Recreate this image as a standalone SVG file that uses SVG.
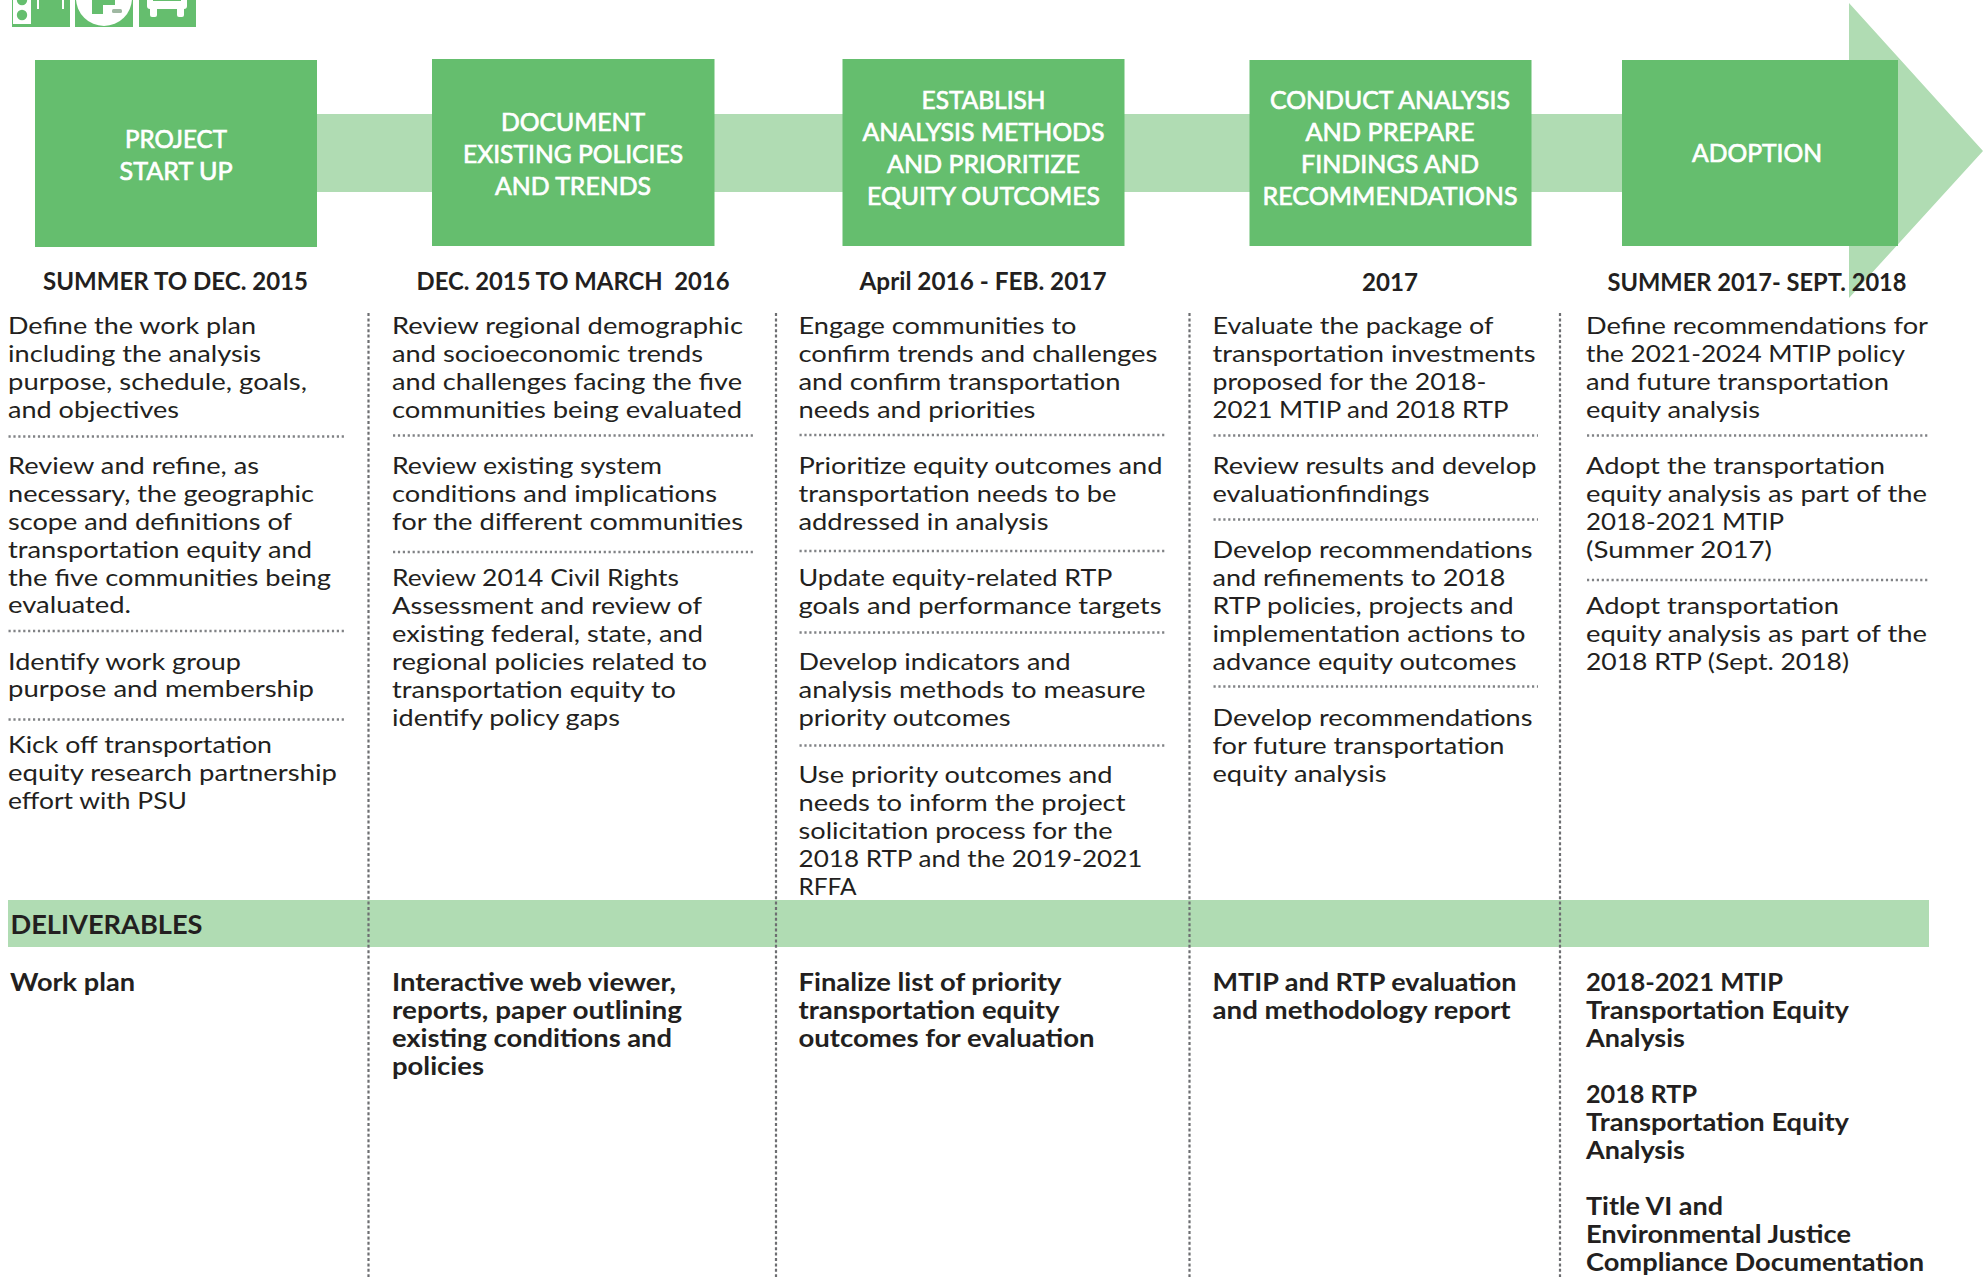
<svg xmlns="http://www.w3.org/2000/svg" width="1986" height="1277" viewBox="0 0 1986 1277">
<style>
text{font-family:"Lato","Carlito","Liberation Sans",sans-serif;fill:#231f20}
.b{font-size:24px}
.h{font-size:24.5px;font-weight:700}
.d{font-size:24.5px;font-weight:700}
.t{font-size:25px;fill:#fff;stroke:#fff;stroke-width:.7px;text-anchor:middle}
.box{fill:#65be6e}
.lite{fill:#b0dcb3}
.hd{stroke:#808285;stroke-width:2.3;stroke-dasharray:2.2 2.7;fill:none}
.vd{stroke:#6d6e71;stroke-width:2.2;stroke-dasharray:3 2.4;fill:none}
.w{fill:#fff}
</style>
<rect width="1986" height="1277" fill="#fff"/>
<g id="icons">
<rect class="box" x="12" y="-4" width="58" height="31"/>
<rect class="w" x="13" y="-4" width="18" height="28"/>
<circle class="box" cx="22" cy="15" r="5.2"/>
<circle class="box" cx="22" cy="0" r="5.2"/>
<rect class="w" x="37" y="-4" width="2" height="13"/>
<rect class="w" x="62" y="-4" width="2" height="13"/>
<rect class="box" x="75" y="-4" width="58" height="31"/>
<circle class="w" cx="104" cy="-2" r="28"/>
<rect class="box" x="92" y="-4" width="11" height="18"/>
<rect class="box" x="103" y="-4" width="12" height="9"/>
<rect x="112" y="9" width="10" height="4" rx="1.500" fill="#9fb8a2"/>
<rect class="box" x="139" y="-4" width="57" height="31"/>
<rect class="w" x="147" y="-4" width="40" height="13" rx="3"/>
<rect class="w" x="150" y="6" width="7" height="11" rx="2"/>
<rect class="w" x="177" y="6" width="7" height="11" rx="2"/>
<rect class="box" x="153" y="-4" width="28" height="5"/>
</g>
<g id="connectors">
<path class="lite" d="M317 114H1849V3L1983 151L1849 298V192H317Z"/>
<rect class="lite" x="8" y="900" width="1921" height="47"/>
<g id="column-dividers">
<path class="vd" d="M368.500 313V1277M776 313V1277M1189.500 313V1277M1560 313V1277"/>
</g>
</g>
<g id="stage-1">
<rect class="box" x="35" y="60" width="282" height="187"/>
<text class="t" x="176" y="148" textLength="102" lengthAdjust="spacingAndGlyphs">PROJECT</text>
<text class="t" x="176" y="180" textLength="113" lengthAdjust="spacingAndGlyphs">START UP</text>
<text class="h" x="43" y="290" textLength="265" lengthAdjust="spacingAndGlyphs">SUMMER TO DEC. 2015</text>
</g>
<g id="stage-2">
<rect class="box" x="432" y="59" width="282.500" height="187"/>
<text class="t" x="573" y="131" textLength="144" lengthAdjust="spacingAndGlyphs">DOCUMENT</text>
<text class="t" x="573" y="163" textLength="220" lengthAdjust="spacingAndGlyphs">EXISTING POLICIES</text>
<text class="t" x="573" y="195" textLength="156" lengthAdjust="spacingAndGlyphs">AND TRENDS</text>
<text class="h" x="416.500" y="290" textLength="313" lengthAdjust="spacingAndGlyphs" xml:space="preserve">DEC. 2015 TO MARCH  2016</text>
</g>
<g id="stage-3">
<rect class="box" x="842.500" y="59" width="282" height="187"/>
<text class="t" x="983.500" y="109" textLength="124" lengthAdjust="spacingAndGlyphs">ESTABLISH</text>
<text class="t" x="983.500" y="141" textLength="242" lengthAdjust="spacingAndGlyphs">ANALYSIS METHODS</text>
<text class="t" x="983.500" y="173" textLength="193" lengthAdjust="spacingAndGlyphs">AND PRIORITIZE</text>
<text class="t" x="983.500" y="205" textLength="233" lengthAdjust="spacingAndGlyphs">EQUITY OUTCOMES</text>
<text class="h" x="859.500" y="290" textLength="247" lengthAdjust="spacingAndGlyphs">April 2016 - FEB. 2017</text>
</g>
<g id="stage-4">
<rect class="box" x="1249.500" y="60" width="282" height="186"/>
<text class="t" x="1390" y="109" textLength="240" lengthAdjust="spacingAndGlyphs">CONDUCT ANALYSIS</text>
<text class="t" x="1390" y="141" textLength="169" lengthAdjust="spacingAndGlyphs">AND PREPARE</text>
<text class="t" x="1390" y="173" textLength="178" lengthAdjust="spacingAndGlyphs">FINDINGS AND</text>
<text class="t" x="1390" y="205" textLength="255" lengthAdjust="spacingAndGlyphs">RECOMMENDATIONS</text>
<text class="h" x="1362" y="291" textLength="56" lengthAdjust="spacingAndGlyphs">2017</text>
</g>
<g id="stage-5">
<rect class="box" x="1622" y="60" width="276" height="186"/>
<text class="t" x="1757" y="162" textLength="130" lengthAdjust="spacingAndGlyphs">ADOPTION</text>
<text class="h" x="1607.500" y="291" textLength="299" lengthAdjust="spacingAndGlyphs">SUMMER 2017- SEPT. 2018</text>
</g>
<g id="tasks-1">
<text class="b" x="8" y="333.500" textLength="248" lengthAdjust="spacingAndGlyphs">Define the work plan</text>
<text class="b" x="8" y="361.500" textLength="253" lengthAdjust="spacingAndGlyphs">including the analysis</text>
<text class="b" x="8" y="389.500" textLength="299" lengthAdjust="spacingAndGlyphs">purpose, schedule, goals,</text>
<text class="b" x="8" y="417.500" textLength="171" lengthAdjust="spacingAndGlyphs">and objectives</text>
<path class="hd" d="M8.500 436.500H344"/>
<text class="b" x="8" y="473.500" textLength="251" lengthAdjust="spacingAndGlyphs">Review and refine, as</text>
<text class="b" x="8" y="501.500" textLength="306" lengthAdjust="spacingAndGlyphs">necessary, the geographic</text>
<text class="b" x="8" y="529.500" textLength="284" lengthAdjust="spacingAndGlyphs">scope and definitions of</text>
<text class="b" x="8" y="557.500" textLength="304" lengthAdjust="spacingAndGlyphs">transportation equity and</text>
<text class="b" x="8" y="585.500" textLength="323" lengthAdjust="spacingAndGlyphs">the five communities being</text>
<text class="b" x="8" y="613" textLength="123" lengthAdjust="spacingAndGlyphs">evaluated.</text>
<path class="hd" d="M8.500 631H344"/>
<text class="b" x="8" y="669.500" textLength="233" lengthAdjust="spacingAndGlyphs">Identify work group</text>
<text class="b" x="8" y="697" textLength="306" lengthAdjust="spacingAndGlyphs">purpose and membership</text>
<path class="hd" d="M8.500 719.500H344"/>
<text class="b" x="8" y="753" textLength="264" lengthAdjust="spacingAndGlyphs">Kick off transportation</text>
<text class="b" x="8" y="781" textLength="329" lengthAdjust="spacingAndGlyphs">equity research partnership</text>
<text class="b" x="8" y="809" textLength="179" lengthAdjust="spacingAndGlyphs">effort with PSU</text>
</g>
<g id="tasks-2">
<text class="b" x="392" y="333.500" textLength="351" lengthAdjust="spacingAndGlyphs">Review regional demographic</text>
<text class="b" x="392" y="361.500" textLength="311" lengthAdjust="spacingAndGlyphs">and socioeconomic trends</text>
<text class="b" x="392" y="389.500" textLength="350" lengthAdjust="spacingAndGlyphs">and challenges facing the five</text>
<text class="b" x="392" y="417.500" textLength="350" lengthAdjust="spacingAndGlyphs">communities being evaluated</text>
<path class="hd" d="M393 435.500H753"/>
<text class="b" x="392" y="473.500" textLength="270" lengthAdjust="spacingAndGlyphs">Review existing system</text>
<text class="b" x="392" y="501.500" textLength="325" lengthAdjust="spacingAndGlyphs">conditions and implications</text>
<text class="b" x="392" y="529.500" textLength="351" lengthAdjust="spacingAndGlyphs">for the different communities</text>
<path class="hd" d="M393 552H753"/>
<text class="b" x="392" y="585.500" textLength="287" lengthAdjust="spacingAndGlyphs">Review 2014 Civil Rights</text>
<text class="b" x="392" y="613.500" textLength="310" lengthAdjust="spacingAndGlyphs">Assessment and review of</text>
<text class="b" x="392" y="641.500" textLength="311" lengthAdjust="spacingAndGlyphs">existing federal, state, and</text>
<text class="b" x="392" y="669.500" textLength="315" lengthAdjust="spacingAndGlyphs">regional policies related to</text>
<text class="b" x="392" y="697.500" textLength="284" lengthAdjust="spacingAndGlyphs">transportation equity to</text>
<text class="b" x="392" y="725.500" textLength="228" lengthAdjust="spacingAndGlyphs">identify policy gaps</text>
</g>
<g id="tasks-3">
<text class="b" x="798.500" y="333.500" textLength="278" lengthAdjust="spacingAndGlyphs">Engage communities to</text>
<text class="b" x="798.500" y="361.500" textLength="359" lengthAdjust="spacingAndGlyphs">confirm trends and challenges</text>
<text class="b" x="798.500" y="389.500" textLength="322" lengthAdjust="spacingAndGlyphs">and confirm transportation</text>
<text class="b" x="798.500" y="417.500" textLength="237" lengthAdjust="spacingAndGlyphs">needs and priorities</text>
<path class="hd" d="M799.500 435H1167"/>
<text class="b" x="798.500" y="473.500" textLength="364" lengthAdjust="spacingAndGlyphs">Prioritize equity outcomes and</text>
<text class="b" x="798.500" y="501.500" textLength="318" lengthAdjust="spacingAndGlyphs">transportation needs to be</text>
<text class="b" x="798.500" y="529.500" textLength="250" lengthAdjust="spacingAndGlyphs">addressed in analysis</text>
<path class="hd" d="M799.500 551H1167"/>
<text class="b" x="798.500" y="585.500" textLength="314" lengthAdjust="spacingAndGlyphs">Update equity-related RTP</text>
<text class="b" x="798.500" y="613.500" textLength="363" lengthAdjust="spacingAndGlyphs">goals and performance targets</text>
<path class="hd" d="M799.500 632.500H1167"/>
<text class="b" x="798.500" y="669.500" textLength="272" lengthAdjust="spacingAndGlyphs">Develop indicators and</text>
<text class="b" x="798.500" y="697.500" textLength="347" lengthAdjust="spacingAndGlyphs">analysis methods to measure</text>
<text class="b" x="798.500" y="725.500" textLength="212" lengthAdjust="spacingAndGlyphs">priority outcomes</text>
<path class="hd" d="M799.500 745.500H1167"/>
<text class="b" x="798.500" y="782.500" textLength="314" lengthAdjust="spacingAndGlyphs">Use priority outcomes and</text>
<text class="b" x="798.500" y="810.500" textLength="327" lengthAdjust="spacingAndGlyphs">needs to inform the project</text>
<text class="b" x="798.500" y="838.500" textLength="314" lengthAdjust="spacingAndGlyphs">solicitation process for the</text>
<text class="b" x="798.500" y="866.500" textLength="344" lengthAdjust="spacingAndGlyphs">2018 RTP and the 2019-2021</text>
<text class="b" x="798.500" y="894.500" textLength="58" lengthAdjust="spacingAndGlyphs">RFFA</text>
</g>
<g id="tasks-4">
<text class="b" x="1212.500" y="333.500" textLength="281" lengthAdjust="spacingAndGlyphs">Evaluate the package of</text>
<text class="b" x="1212.500" y="361.500" textLength="323" lengthAdjust="spacingAndGlyphs">transportation investments</text>
<text class="b" x="1212.500" y="389.500" textLength="274" lengthAdjust="spacingAndGlyphs">proposed for the 2018-</text>
<text class="b" x="1212.500" y="417.500" textLength="296" lengthAdjust="spacingAndGlyphs">2021 MTIP and 2018 RTP</text>
<path class="hd" d="M1213.500 435.500H1538"/>
<text class="b" x="1212.500" y="474" textLength="324" lengthAdjust="spacingAndGlyphs">Review results and develop</text>
<text class="b" x="1212.500" y="502" textLength="217" lengthAdjust="spacingAndGlyphs">evaluationfindings</text>
<path class="hd" d="M1213.500 519.500H1538"/>
<text class="b" x="1212.500" y="558" textLength="320" lengthAdjust="spacingAndGlyphs">Develop recommendations</text>
<text class="b" x="1212.500" y="586" textLength="293" lengthAdjust="spacingAndGlyphs">and refinements to 2018</text>
<text class="b" x="1212.500" y="614" textLength="301" lengthAdjust="spacingAndGlyphs">RTP policies, projects and</text>
<text class="b" x="1212.500" y="642" textLength="313" lengthAdjust="spacingAndGlyphs">implementation actions to</text>
<text class="b" x="1212.500" y="670" textLength="304" lengthAdjust="spacingAndGlyphs">advance equity outcomes</text>
<path class="hd" d="M1213.500 686.500H1538"/>
<text class="b" x="1212.500" y="726" textLength="320" lengthAdjust="spacingAndGlyphs">Develop recommendations</text>
<text class="b" x="1212.500" y="754" textLength="292" lengthAdjust="spacingAndGlyphs">for future transportation</text>
<text class="b" x="1212.500" y="782" textLength="174" lengthAdjust="spacingAndGlyphs">equity analysis</text>
</g>
<g id="tasks-5">
<text class="b" x="1586" y="334" textLength="342" lengthAdjust="spacingAndGlyphs">Define recommendations for</text>
<text class="b" x="1586" y="362" textLength="319" lengthAdjust="spacingAndGlyphs">the 2021-2024 MTIP policy</text>
<text class="b" x="1586" y="390" textLength="303" lengthAdjust="spacingAndGlyphs">and future transportation</text>
<text class="b" x="1586" y="418" textLength="174" lengthAdjust="spacingAndGlyphs">equity analysis</text>
<path class="hd" d="M1587 435.500H1929"/>
<text class="b" x="1586" y="474" textLength="299" lengthAdjust="spacingAndGlyphs">Adopt the transportation</text>
<text class="b" x="1586" y="502" textLength="341" lengthAdjust="spacingAndGlyphs">equity analysis as part of the</text>
<text class="b" x="1586" y="530" textLength="198" lengthAdjust="spacingAndGlyphs">2018-2021 MTIP</text>
<text class="b" x="1586" y="558" textLength="186" lengthAdjust="spacingAndGlyphs">(Summer 2017)</text>
<path class="hd" d="M1587 580H1929"/>
<text class="b" x="1586" y="614" textLength="253" lengthAdjust="spacingAndGlyphs">Adopt transportation</text>
<text class="b" x="1586" y="642" textLength="341" lengthAdjust="spacingAndGlyphs">equity analysis as part of the</text>
<text class="b" x="1586" y="670" textLength="263" lengthAdjust="spacingAndGlyphs">2018 RTP (Sept. 2018)</text>
</g>
<g id="deliverables">
<text class="d" style="font-size:26px" x="10.500" y="934" textLength="192" lengthAdjust="spacingAndGlyphs">DELIVERABLES</text>
<text class="d" x="10" y="991" textLength="125" lengthAdjust="spacingAndGlyphs">Work plan</text>
<text class="d" x="392" y="991" textLength="284" lengthAdjust="spacingAndGlyphs">Interactive web viewer,</text>
<text class="d" x="392" y="1019" textLength="290" lengthAdjust="spacingAndGlyphs">reports, paper outlining</text>
<text class="d" x="392" y="1047" textLength="280" lengthAdjust="spacingAndGlyphs">existing conditions and</text>
<text class="d" x="392" y="1075" textLength="92" lengthAdjust="spacingAndGlyphs">policies</text>
<text class="d" x="798.500" y="991" textLength="263" lengthAdjust="spacingAndGlyphs">Finalize list of priority</text>
<text class="d" x="798.500" y="1019" textLength="261" lengthAdjust="spacingAndGlyphs">transportation equity</text>
<text class="d" x="798.500" y="1047" textLength="296" lengthAdjust="spacingAndGlyphs">outcomes for evaluation</text>
<text class="d" x="1212.500" y="991" textLength="304" lengthAdjust="spacingAndGlyphs">MTIP and RTP evaluation</text>
<text class="d" x="1212.500" y="1019" textLength="298" lengthAdjust="spacingAndGlyphs">and methodology report</text>
<text class="d" x="1586" y="991" textLength="197" lengthAdjust="spacingAndGlyphs">2018-2021 MTIP</text>
<text class="d" x="1586" y="1019" textLength="263" lengthAdjust="spacingAndGlyphs">Transportation Equity</text>
<text class="d" x="1586" y="1047" textLength="99" lengthAdjust="spacingAndGlyphs">Analysis</text>
<text class="d" x="1586" y="1103" textLength="111" lengthAdjust="spacingAndGlyphs">2018 RTP</text>
<text class="d" x="1586" y="1131" textLength="263" lengthAdjust="spacingAndGlyphs">Transportation Equity</text>
<text class="d" x="1586" y="1159" textLength="99" lengthAdjust="spacingAndGlyphs">Analysis</text>
<text class="d" x="1586" y="1215" textLength="137" lengthAdjust="spacingAndGlyphs">Title VI and</text>
<text class="d" x="1586" y="1243" textLength="265" lengthAdjust="spacingAndGlyphs">Environmental Justice</text>
<text class="d" x="1586" y="1271" textLength="338" lengthAdjust="spacingAndGlyphs">Compliance Documentation</text>
</g>
</svg>
